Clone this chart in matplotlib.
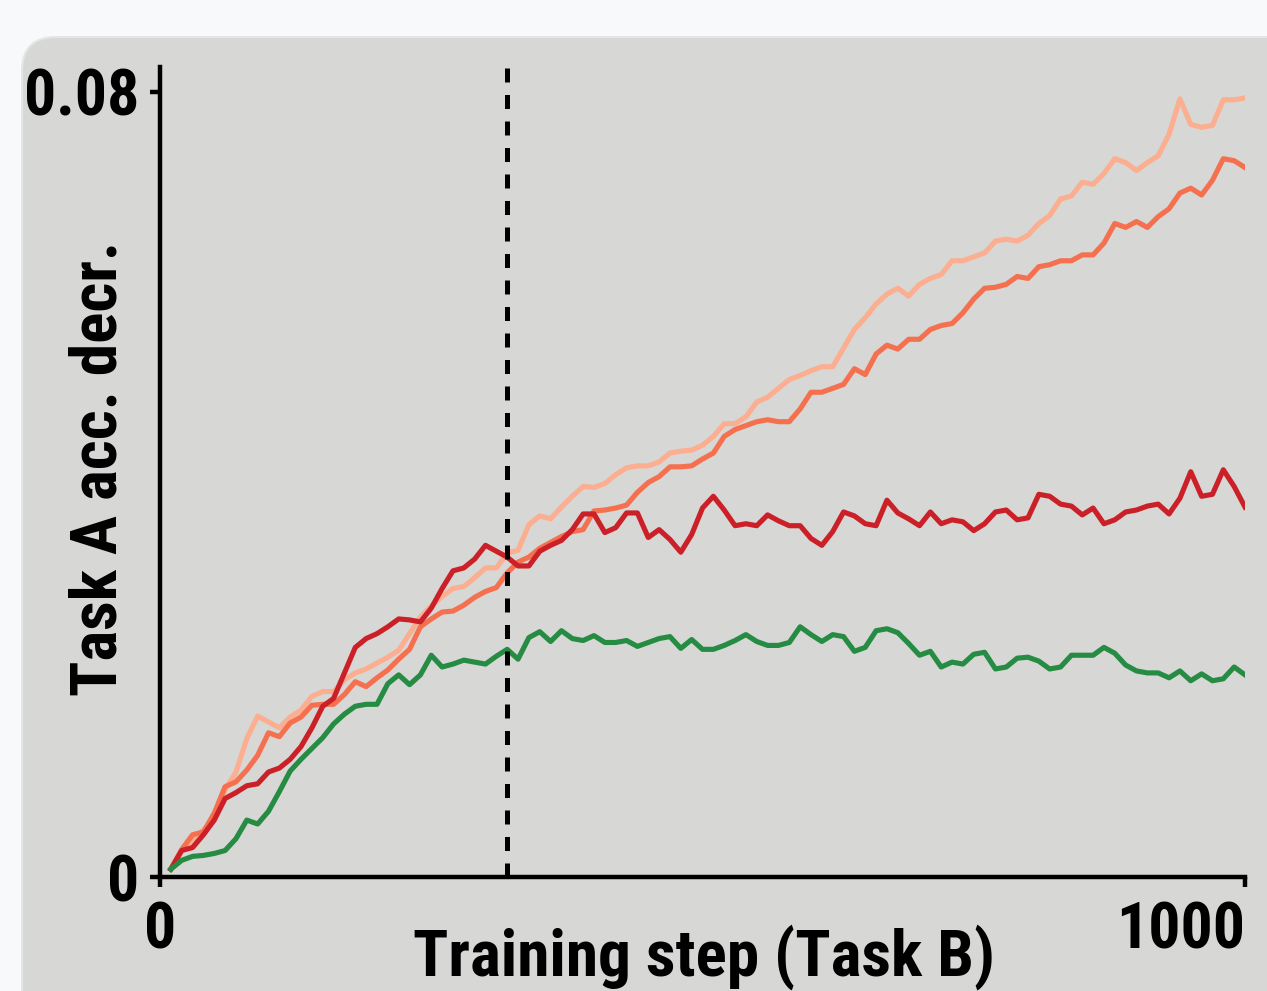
import matplotlib
matplotlib.use("Agg")
import matplotlib.pyplot as plt
from matplotlib import font_manager as fm
from matplotlib.patches import FancyBboxPatch

# accuracy decrease on task A, in percentage points, every 10 steps of task B
steps = list(range(10, 1001, 10))

pale = [0.08, 0.27, 0.37, 0.48, 0.58, 0.89, 1.07, 1.41, 1.64, 1.58,
        1.52, 1.63, 1.70, 1.84, 1.89, 1.89, 2.01, 2.08, 2.12, 2.18,
        2.24, 2.31, 2.48, 2.65, 2.76, 2.86, 2.94, 2.96, 3.05, 3.15,
        3.15, 3.30, 3.33, 3.59, 3.68, 3.65, 3.77, 3.88, 3.98, 3.97,
        4.01, 4.10, 4.17, 4.19, 4.19, 4.23, 4.32, 4.34, 4.35, 4.40,
        4.49, 4.62, 4.62, 4.69, 4.84, 4.89, 4.98, 5.07, 5.11, 5.16,
        5.20, 5.20, 5.39, 5.58, 5.70, 5.84, 5.94, 6.00, 5.92, 6.04,
        6.10, 6.14, 6.28, 6.28, 6.32, 6.36, 6.48, 6.50, 6.48, 6.54,
        6.66, 6.74, 6.91, 6.94, 7.08, 7.06, 7.17, 7.32, 7.28, 7.20,
        7.28, 7.35, 7.57, 7.93, 7.67, 7.64, 7.66, 7.92, 7.92, 7.94]

orange = [0.08, 0.28, 0.43, 0.46, 0.65, 0.92, 0.97, 1.09, 1.24, 1.47,
          1.43, 1.57, 1.63, 1.75, 1.76, 1.76, 1.86, 1.99, 1.94, 2.03,
          2.11, 2.22, 2.32, 2.55, 2.63, 2.70, 2.71, 2.77, 2.85, 2.91,
          2.95, 3.10, 3.21, 3.26, 3.35, 3.41, 3.47, 3.52, 3.54, 3.73,
          3.74, 3.76, 3.79, 3.92, 4.02, 4.08, 4.18, 4.18, 4.19, 4.26,
          4.32, 4.49, 4.56, 4.60, 4.64, 4.66, 4.64, 4.64, 4.77, 4.94,
          4.94, 4.98, 5.02, 5.18, 5.12, 5.33, 5.42, 5.38, 5.48, 5.48,
          5.58, 5.62, 5.64, 5.75, 5.89, 6.00, 6.01, 6.04, 6.12, 6.10,
          6.22, 6.24, 6.28, 6.28, 6.34, 6.34, 6.46, 6.66, 6.62, 6.68,
          6.62, 6.73, 6.81, 6.97, 7.02, 6.95, 7.10, 7.32, 7.30, 7.23]

red = [0.08, 0.27, 0.30, 0.43, 0.58, 0.80, 0.86, 0.93, 0.95, 1.07,
       1.11, 1.20, 1.33, 1.52, 1.74, 1.82, 2.08, 2.34, 2.43, 2.48,
       2.55, 2.63, 2.62, 2.60, 2.74, 2.94, 3.12, 3.15, 3.24, 3.38,
       3.32, 3.26, 3.17, 3.17, 3.32, 3.38, 3.43, 3.54, 3.70, 3.70,
       3.51, 3.56, 3.71, 3.71, 3.46, 3.54, 3.44, 3.31, 3.49, 3.76,
       3.88, 3.74, 3.58, 3.60, 3.58, 3.69, 3.63, 3.58, 3.58, 3.45,
       3.38, 3.52, 3.72, 3.68, 3.60, 3.58, 3.84, 3.71, 3.65, 3.58,
       3.72, 3.60, 3.64, 3.62, 3.53, 3.60, 3.72, 3.74, 3.64, 3.66,
       3.90, 3.88, 3.80, 3.78, 3.69, 3.76, 3.60, 3.64, 3.72, 3.74,
       3.78, 3.80, 3.70, 3.86, 4.13, 3.88, 3.90, 4.15, 3.98, 3.77]

green = [0.08, 0.17, 0.21, 0.22, 0.24, 0.27, 0.39, 0.58, 0.54, 0.67,
         0.87, 1.08, 1.20, 1.31, 1.42, 1.56, 1.66, 1.74, 1.76, 1.76,
         1.97, 2.06, 1.96, 2.06, 2.26, 2.14, 2.17, 2.21, 2.19, 2.17,
         2.25, 2.32, 2.22, 2.44, 2.50, 2.40, 2.51, 2.43, 2.41, 2.46,
         2.39, 2.39, 2.41, 2.35, 2.39, 2.43, 2.45, 2.33, 2.42, 2.32,
         2.32, 2.36, 2.41, 2.47, 2.40, 2.36, 2.36, 2.39, 2.55, 2.47,
         2.40, 2.47, 2.45, 2.30, 2.34, 2.51, 2.53, 2.49, 2.38, 2.26,
         2.30, 2.14, 2.19, 2.17, 2.27, 2.29, 2.12, 2.14, 2.23, 2.24,
         2.20, 2.12, 2.14, 2.26, 2.26, 2.26, 2.34, 2.28, 2.16, 2.10,
         2.08, 2.08, 2.03, 2.10, 2.00, 2.07, 2.00, 2.02, 2.14, 2.06]

switch_step = 320
xticks = [0, 1000]
yticks = [0, 0.08]
ytick_labels = ["0", "0.08"]

# pick a condensed bold face if one is around
names = {f.name for f in fm.fontManager.ttflist}
font = "DejaVu Sans"
for cand in ["Roboto Condensed", "Liberation Sans Narrow", "Open Sans Condensed", "Noto Sans Condensed"]:
    if cand in names:
        font = cand
        break
plt.rcParams['font.family'] = [font, 'DejaVu Sans']
plt.rcParams['font.weight'] = 'bold'
plt.rcParams['font.stretch'] = 'condensed'

fig = plt.figure(figsize=(12.67, 9.91), dpi=100, facecolor='#f8f9fb')
panel = FancyBboxPatch((22, -40), 1320, 994, boxstyle='round,pad=0,rounding_size=34',
                       transform=None, facecolor='#d7d7d5', edgecolor='#e4e5e7', linewidth=1.5, zorder=-10)
fig.patches.append(panel)

ax = fig.add_axes([160 / 1267, 114 / 991, 1085 / 1267, 810 / 991], zorder=1)
ax.set_facecolor('none')

lw = 3.7
to_frac = lambda v: [x / 100 for x in v]
ax.plot(steps, to_frac(pale), color='#fcae91', lw=lw)
ax.plot(steps, to_frac(orange), color='#f4704f', lw=lw)
ax.plot(steps, to_frac(red), color='#cb2027', lw=lw)
ax.plot(steps, to_frac(green), color='#268b43', lw=lw)
ax.axvline(switch_step, color='black', lw=3.6, linestyle=(0, (2.8, 2.5)), zorder=5)

ax.set_xlim(0, 1000)
ax.set_ylim(0, 0.08 * 810 / 785)
for s in ['top', 'right']:
    ax.spines[s].set_visible(False)
for s in ['left', 'bottom']:
    ax.spines[s].set_linewidth(3.2)
    ax.spines[s].set_capstyle('projecting')
ax.tick_params(width=3.2, length=7, labelsize=46, direction='out')
ax.tick_params(axis='y', pad=8)
ax.tick_params(axis='x', pad=10)
ax.set_xticks(xticks)
ax.set_xticklabels([str(t) for t in xticks])
ax.set_yticks(yticks)
ax.set_yticklabels(ytick_labels)
ax.get_xticklabels()[-1].set_horizontalalignment('right')

fig.text(704 / 1267, 1 - 976 / 991, "Training step (Task B)", ha='center', va='baseline', fontsize=47)
fig.text(130 / 1267, 1 - 468 / 991, "Task A acc. decr.", ha='right', va='center', rotation=90, fontsize=47)

fig.savefig('out.png', dpi=100, facecolor=fig.get_facecolor())
plt.close()
